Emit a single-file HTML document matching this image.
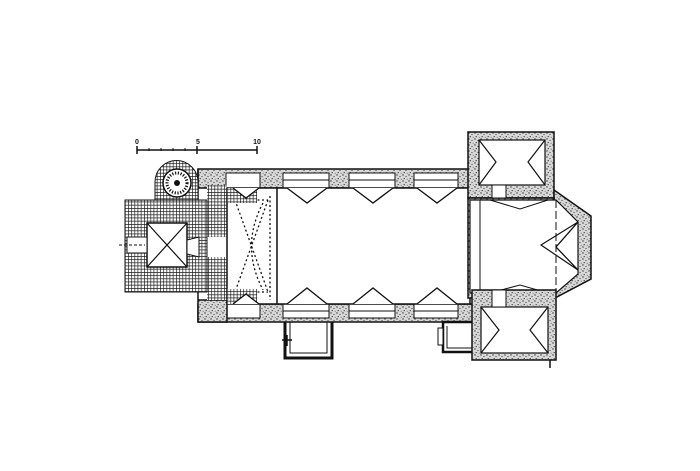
<!DOCTYPE html>
<html><head><meta charset="utf-8"><style>
html,body{margin:0;padding:0;background:#fff;}
svg{display:block;}
</style></head><body>
<svg width="700" height="471" viewBox="0 0 700 471" xmlns="http://www.w3.org/2000/svg">
<defs>
<pattern id="h" width="3.2" height="3.2" patternUnits="userSpaceOnUse">
<rect width="3.2" height="3.2" fill="#fff"/>
<path d="M0 0H3.2M0 0V3.2" stroke="#111" stroke-width="1.3"/>
</pattern>
<pattern id="s" width="6" height="6" patternUnits="userSpaceOnUse">
<rect width="6" height="6" fill="#d8d8d8"/>
<circle cx="1" cy="1" r="0.7" fill="#333"/><circle cx="4" cy="2.5" r="0.6" fill="#444"/>
<circle cx="2.2" cy="4.6" r="0.6" fill="#333"/><circle cx="5.2" cy="5.3" r="0.5" fill="#555"/>
</pattern>
</defs>
<rect width="700" height="471" fill="#fff"/>

<!-- scale bar -->
<g stroke="#111" stroke-width="1.5" fill="none">
<path d="M137 150H257M137 146V154M197 146V154M257 146V154"/>
<path d="M149 148V151M161 148V151M173 148V151M185 148V151" stroke-width="1"/>
</g>
<g font-family="Liberation Sans, sans-serif" font-size="7" font-weight="bold" fill="#111" text-anchor="middle">
<text x="137" y="144">0</text><text x="198" y="144">5</text><text x="257" y="144">10</text>
</g>

<!-- nave walls (stippled) -->
<rect x="198" y="169" width="272" height="19" fill="url(#s)" stroke="#111" stroke-width="1.5"/>
<rect x="198" y="304" width="276" height="18" fill="url(#s)" stroke="#111" stroke-width="1.5"/>
<!-- window recesses (white) on walls -->
<g fill="#fff" stroke="#111" stroke-width="1">
<rect x="283" y="173" width="46" height="15"/><rect x="349" y="173" width="46" height="15"/><rect x="414" y="173" width="44" height="15"/>
<rect x="283" y="304" width="46" height="14"/><rect x="349" y="304" width="46" height="14"/><rect x="414" y="304" width="44" height="14"/>
<rect x="226" y="173" width="34" height="15"/><rect x="226" y="304" width="34" height="14"/>
</g>
<g stroke="#111" stroke-width="1" fill="none">
<path d="M283 180H329M349 180H395M414 180H458M283 311H329M349 311H395M414 311H458"/>
</g>
<!-- vestibule west wall -->
<path d="M198 169V322H227V300H198Z" fill="url(#s)" stroke="#111" stroke-width="1.5"/>
<rect x="207" y="185" width="20" height="115" fill="url(#h)"/>
<rect x="205" y="237" width="22" height="20" fill="#fff"/>
<!-- nave interior -->
<rect x="227" y="188" width="243" height="116" fill="#fff" stroke="#111" stroke-width="1.5"/>
<line x1="277" y1="188" x2="277" y2="304" stroke="#111" stroke-width="1.5"/>
<!-- vault dotted -->
<g stroke="#111" stroke-width="1.3" stroke-dasharray="2 2.5" fill="none">
<path d="M235 200L268 292M268 200L235 292M270 196V300M235 200H268M235 292H268"/>
<path d="M263 203Q240 246 263 290"/>
</g>
<!-- stairs hatch in vestibule corners -->
<rect x="227" y="188" width="30" height="15" fill="url(#h)"/>
<rect x="227" y="289" width="30" height="15" fill="url(#h)"/>
<!-- nave triangles -->
<g fill="#fff" stroke="#111" stroke-width="1.3">
<path d="M287 188L307 203L327 188M353 188L373 203L393 188M417 188L437 203L457 188"/>
<path d="M287 304L307 288L327 304M353 304L373 288L393 304M417 304L437 288L457 304"/>
<path d="M233 188L246 198L259 188M233 304L246 294L259 304"/>
</g>

<!-- west tower -->
<rect x="125" y="200" width="82" height="92" fill="url(#h)" stroke="#111" stroke-width="1"/>
<path d="M155 200V182A21 21 0 0 1 198 182V200Z" fill="url(#h)" stroke="#111" stroke-width="1"/>
<circle cx="177" cy="183" r="14" fill="#fff" stroke="#111" stroke-width="1.5"/>
<circle cx="177" cy="183" r="10" fill="none" stroke="#111" stroke-width="3" stroke-dasharray="1.2 1.6"/>
<circle cx="177" cy="183" r="3" fill="#111"/>
<rect x="147" y="223" width="40" height="44" fill="#fff" stroke="#111" stroke-width="1.5"/>
<path d="M147 223L187 267M187 223L147 267" stroke="#111" stroke-width="1.2"/>
<path d="M127 237H147V253H127Z" fill="#fff" stroke="#111" stroke-width="1"/>
<path d="M187 240L199 237V257L187 254Z" fill="#fff" stroke="#111" stroke-width="1"/>
<path d="M119 245H145" stroke="#111" stroke-dasharray="3 2"/>

<!-- east towers & chancel -->
<rect x="468" y="132" width="86" height="66" fill="url(#s)" stroke="#111" stroke-width="1.5"/>
<rect x="479" y="140" width="66" height="45" fill="#fff" stroke="#111" stroke-width="1.2"/>
<path d="M479 140L496 162L479 185M545 140L528 162L545 185" fill="none" stroke="#111" stroke-width="1.2"/>
<path d="M554 190L591 216V279L555 298Z" fill="url(#s)" stroke="#111" stroke-width="1.5"/>
<path d="M468 198H554V298H468Z" fill="url(#s)" stroke="#111" stroke-width="1.5"/>
<path d="M470 200H556L578 222V274L556 293H470Z" fill="#fff" stroke="#111" stroke-width="1.2"/>
<path d="M490 200L520 209L548 200" fill="none" stroke="#111"/>
<path d="M490 293L520 285L548 293" fill="none" stroke="#111"/>
<path d="M556 200V293" stroke="#111" stroke-dasharray="8 3"/>
<path d="M578 222L541 245L578 270L556 247Z" fill="none" stroke="#111" stroke-width="1.2"/>
<path d="M578 222L556 247L578 270" fill="none" stroke="#111"/>
<line x1="480" y1="200" x2="480" y2="293" stroke="#111"/>
<rect x="472" y="290" width="84" height="70" fill="url(#s)" stroke="#111" stroke-width="1.5"/>
<path d="M550 360V368" stroke="#111" stroke-width="1.5"/>
<rect x="481" y="307" width="67" height="46" fill="#fff" stroke="#111" stroke-width="1.2"/>
<path d="M481 307L499 330L481 353M548 307L530 330L548 353" fill="none" stroke="#111" stroke-width="1.2"/>
<rect x="492" y="290" width="14" height="17" fill="#fff" stroke="#111"/>
<rect x="492" y="185" width="14" height="13" fill="#fff" stroke="#111"/>

<!-- south annexes -->
<path d="M285 322V358H332V322" fill="none" stroke="#111" stroke-width="3"/>
<path d="M290 322V353H327V322" fill="none" stroke="#111" stroke-width="1"/>
<path d="M282 340H292M287 335V346" stroke="#111" stroke-width="1.5"/>
<path d="M472 322H443V352H472" fill="none" stroke="#111" stroke-width="2.5"/>
<path d="M447 326V348H472" fill="none" stroke="#111" stroke-width="1"/>
<rect x="438" y="328" width="5" height="17" fill="#fff" stroke="#111"/>
</svg>
</body></html>
